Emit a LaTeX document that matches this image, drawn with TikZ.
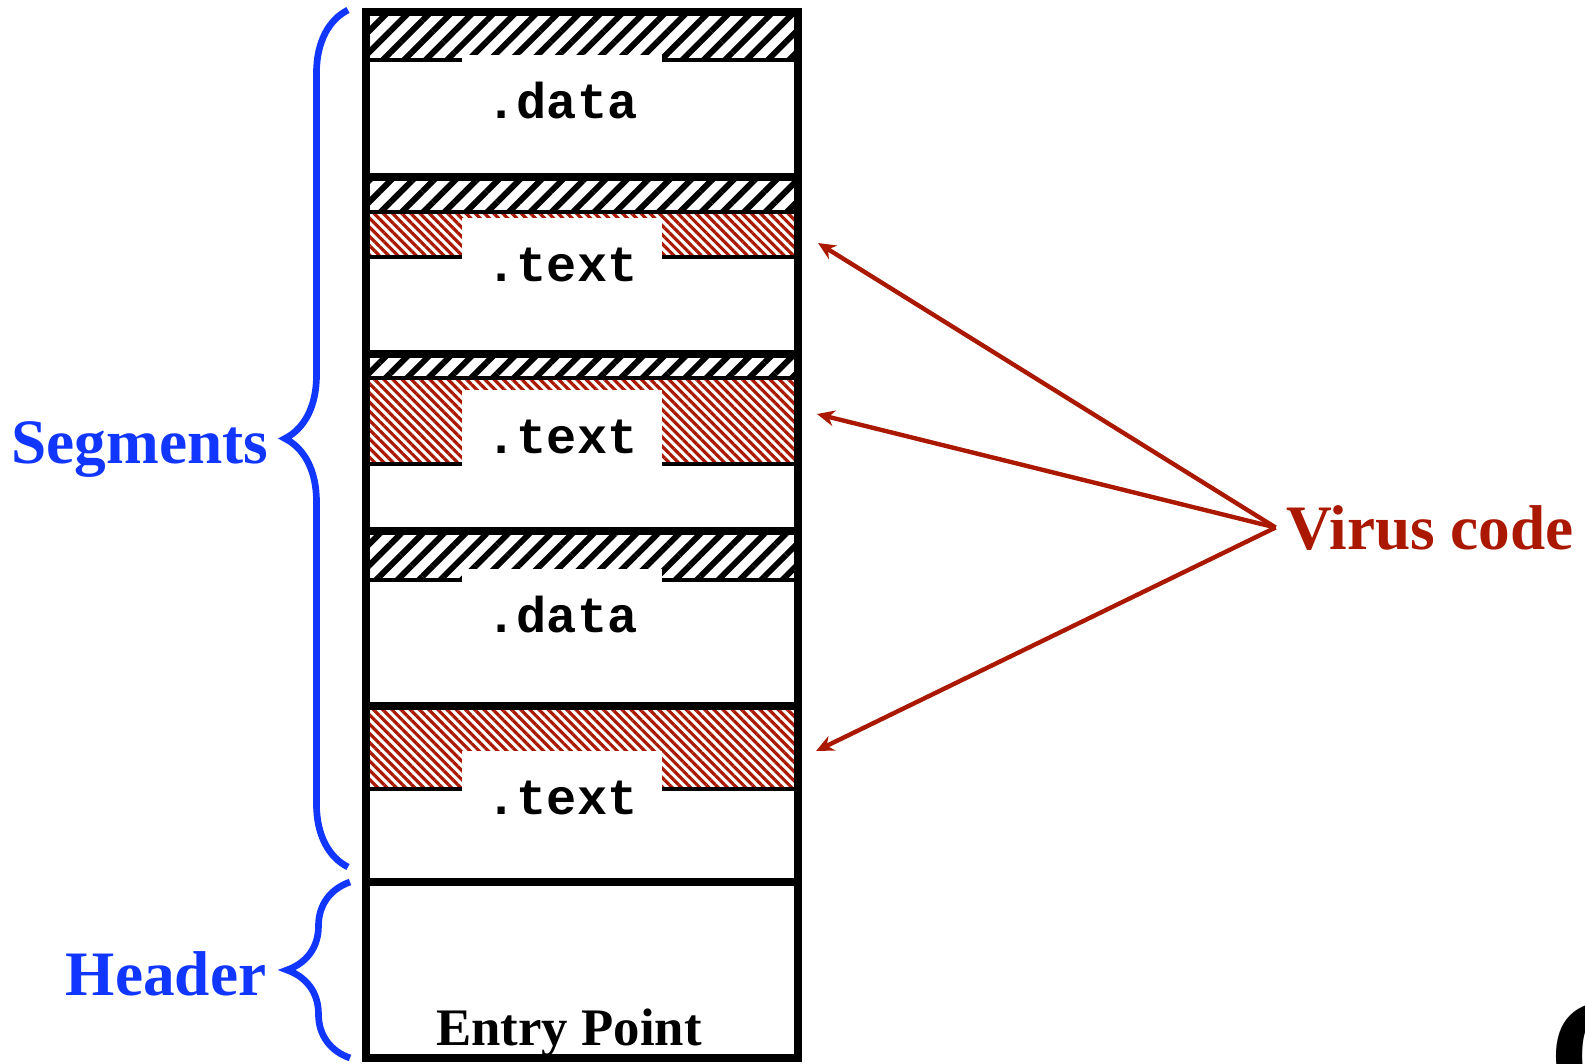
\documentclass[tikz,border=0pt]{standalone}
\usepackage{fontspec}
\setmainfont{Liberation Serif}
\newfontfamily\codefont{Liberation Mono}
\definecolor{segblue}{RGB}{17, 54, 255}
\definecolor{virred}{RGB}{170, 24, 0}
\usetikzlibrary{arrows.meta, patterns.meta, decorations.pathreplacing}

\begin{document}
\begin{tikzpicture}[x=0.01cm, y=-0.01cm,
  frame/.style={line width=2.1pt},
  bandline/.style={line width=1.3pt},
  oldhatch/.style={pattern={Lines[angle=45, distance=4.3pt, line width=1.7pt]}, pattern color=black},
  virhatch/.style={pattern={Lines[angle=-45, distance=1.85pt, line width=0.9pt]}, pattern color=virred},
  seclabel/.style={fill=white, inner sep=0pt, minimum width=2cm, text height=0.63cm, text depth=0.15cm, anchor=base, font=\codefont\bfseries\fontsize{14.3}{16}\selectfont},
  sidelabel/.style={anchor=base, inner sep=0pt, font=\bfseries\fontsize{18}{21}\selectfont, text=segblue},
  curly/.style={decorate, decoration={brace, amplitude=0.63cm}, draw=segblue, line width=1.9pt},
  hit/.style={-{Stealth[length=5pt, width=4.5pt]}, draw=virred, line width=1.25pt}]

  \useasboundingbox (0,0) rectangle (1585,1063);

  % .data (top)
  \fill[oldhatch] (366,12) rectangle (798,60);
  \draw[bandline] (366,60) -- (798,60);

  % .text
  \fill[oldhatch] (366,177) rectangle (798,212);
  \fill[virhatch] (366,212) rectangle (798,257);
  \draw[bandline] (366,212) -- (798,212);
  \draw[bandline] (366,257) -- (798,257);

  % .text
  \fill[oldhatch] (366,354) rectangle (798,378);
  \fill[virhatch] (366,378) rectangle (798,464);
  \draw[bandline] (366,378) -- (798,378);
  \draw[bandline] (366,464) -- (798,464);

  % .data
  \fill[oldhatch] (366,531) rectangle (798,580);
  \draw[bandline] (366,580) -- (798,580);

  % .text (last)
  \fill[virhatch] (366,706) rectangle (798,789);
  \draw[bandline] (366,789) -- (798,789);

  % Section names
  \node[seclabel] (data1) at (562,118) {.data};
  \node[seclabel] (text1) at (562,281) {.text};
  \node[seclabel] (text2) at (562,453) {.text};
  \node[seclabel] (data2) at (562,632) {.data};
  \node[seclabel] (text3) at (562,814) {.text};

  % File frame
  \draw[frame] (366,12) rectangle (798,1058);
  \foreach \y in {177,354,531,706,882}
    \draw[frame] (366,\y) -- (798,\y);

  \node[anchor=base, inner sep=0pt, font=\bfseries\fontsize{15}{18}\selectfont] (entry) at (569,1045) {Entry Point};

  % Braces
  \draw[curly] (348,867) -- (348,10);
  \draw[curly] (350,1058) -- (350,882);
  \node[sidelabel] (segs) at (140,463) {Segments};
  \node[sidelabel] (hdr) at (166,995) {Header};

  % Virus code
  \node[sidelabel, text=virred, inner sep=2.8pt] (virus) at (1430,549) {Virus code};
  \coordinate (hitA) at (818,243);
  \coordinate (hitB) at (817,414);
  \coordinate (hitC) at (816,751);
  \foreach \t in {hitA,hitB,hitC}
    \draw[hit] (virus.west) -- (\t);

  \node[anchor=base west, inner sep=0pt, font=\bfseries\fontsize{46}{50}\selectfont] (corner) at (1548,1108) {C};
\end{tikzpicture}
\end{document}
